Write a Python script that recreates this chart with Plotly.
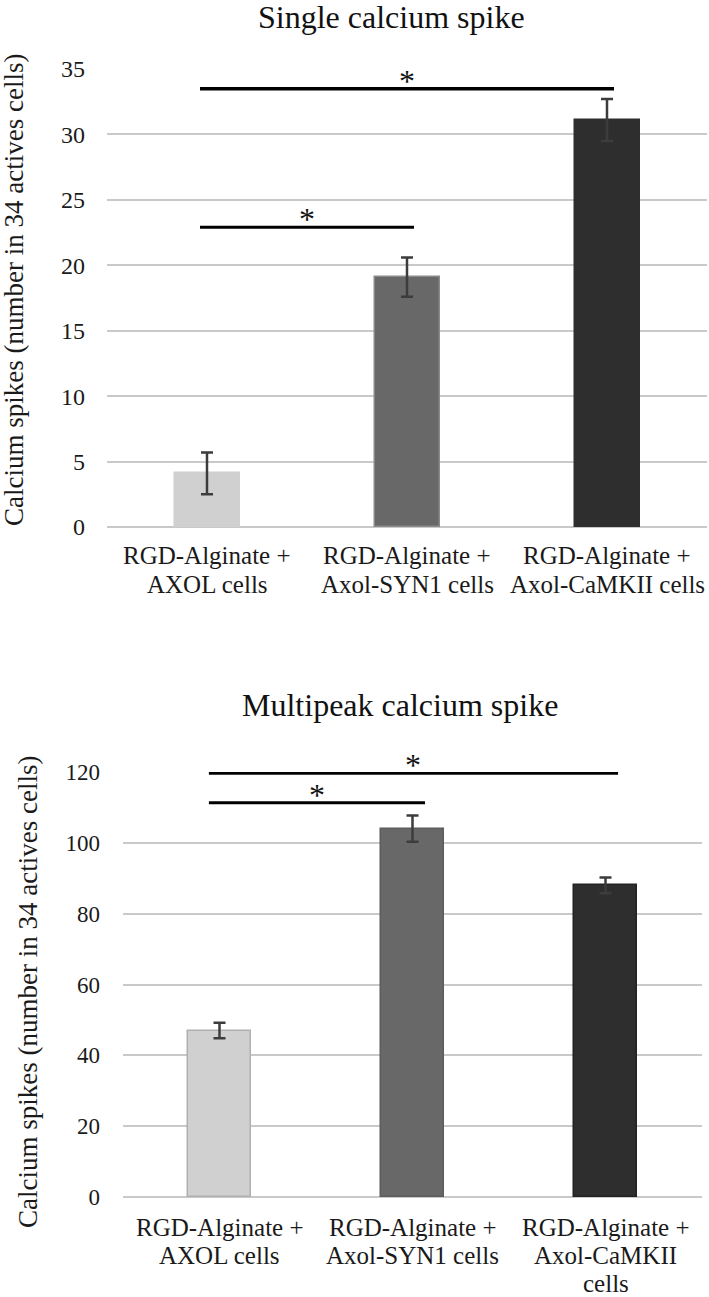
import plotly.graph_objects as go

# ---------------- data ----------------
label_lines_top = [
    ["RGD-Alginate +", "AXOL cells"],
    ["RGD-Alginate +", "Axol-SYN1 cells"],
    ["RGD-Alginate +", "Axol-CaMKII cells"],
]
label_lines_bottom = [
    ["RGD-Alginate +", "AXOL cells"],
    ["RGD-Alginate +", "Axol-SYN1 cells"],
    ["RGD-Alginate +", "Axol-CaMKII", "cells"],
]
positions = [0, 1, 2]

single_values = [4.1, 19.1, 31.1]
single_err = [1.6, 1.5, 1.6]
multi_values = [47.0, 104.0, 88.0]
multi_err = [2.2, 3.7, 2.2]

single_ticks = [0, 5, 10, 15, 20, 25, 30, 35]
multi_ticks = [0, 20, 40, 60, 80, 100, 120]

# significance brackets: (group a, group b, line level)
single_sig = [(0, 1, 22.9), (0, 2, 33.5)]
multi_sig = [(0, 1, 111.3), (0, 2, 119.7)]

title_top = "Single calcium spike"
title_bottom = "Multipeak calcium spike"
y_title = "Calcium spikes (number in 34 actives cells)"

# ---------------- style ----------------
W, H = 709, 1297
FONT = "Liberation Serif, Times New Roman, serif"
bar_colors = ["#d0d0d0", "#686868", "#2e2e2e"]
line_top = ["#d0d0d0", "#8a8a8a", "#2e2e2e"]
line_bottom = ["#b0b0b0", "#5c5c5c", "#222222"]
err_color = "#3c3c3c"
grid_color = "#c9c9c9"


def py(px):
    return 1 - px / H


fig = go.Figure()

fig.add_trace(go.Bar(
    x=positions, y=single_values, width=0.325,
    marker=dict(color=bar_colors, line=dict(color=line_top, width=1.5)),
    error_y=dict(type="data", array=single_err, visible=True,
                 color=err_color, thickness=2.5, width=6),
    xaxis="x", yaxis="y", showlegend=False,
))
fig.add_trace(go.Bar(
    x=positions, y=multi_values, width=0.325,
    marker=dict(color=bar_colors, line=dict(color=line_bottom, width=1.5)),
    error_y=dict(type="data", array=multi_err, visible=True,
                 color=err_color, thickness=2.5, width=6),
    xaxis="x2", yaxis="y2", showlegend=False,
))

yax_common = dict(
    showgrid=True, gridcolor=grid_color, gridwidth=2,
    zeroline=True, zerolinecolor=grid_color, zerolinewidth=2,
    showline=False, ticks="", automargin=False,
    tickfont=dict(family=FONT, size=24, color="#1a1a1a"),
)
xax_common = dict(
    showgrid=False, zeroline=False, showline=False, ticks="",
    showticklabels=False, range=[-0.5, 2.5], automargin=False,
    fixedrange=True,
)

fig.update_layout(
    width=W, height=H,
    margin=dict(l=0, r=0, t=0, b=0),
    paper_bgcolor="white", plot_bgcolor="white",
    font=dict(family=FONT, color="#1a1a1a"),
    xaxis=dict(domain=[107 / W, 707 / W], anchor="y", **xax_common),
    yaxis=dict(domain=[py(527), py(69)], anchor="x", range=[0, 35],
               tickvals=single_ticks, ticklabelstandoff=21, **yax_common),
    xaxis2=dict(domain=[123 / W, 702 / W], anchor="y2", **xax_common),
    yaxis2=dict(domain=[py(1197), py(772)], anchor="x2", range=[0, 120],
                tickvals=multi_ticks, ticklabelstandoff=22, **yax_common),
    bargap=0,
)
fig.layout.yaxis2.tickfont.size = 23

annotations = []
shapes = []

# titles
annotations.append(dict(text=title_top, x=391 / W, y=py(17), xref="paper", yref="paper",
                        showarrow=False, xanchor="center", yanchor="middle",
                        font=dict(family=FONT, size=32, color="#111111")))
annotations.append(dict(text=title_bottom, x=400 / W, y=py(705), xref="paper", yref="paper",
                        showarrow=False, xanchor="center", yanchor="middle",
                        font=dict(family=FONT, size=32, color="#111111")))

# y titles
annotations.append(dict(text=y_title, x=14 / W, y=py(290), xref="paper", yref="paper",
                        showarrow=False, xanchor="center", yanchor="middle", textangle=-90,
                        font=dict(family=FONT, size=27, color="#1a1a1a")))
annotations.append(dict(text=y_title, x=28 / W, y=py(992), xref="paper", yref="paper",
                        showarrow=False, xanchor="center", yanchor="middle", textangle=-90,
                        font=dict(family=FONT, size=27, color="#1a1a1a")))

# category labels (one annotation per line for tight line spacing)
def add_labels(lines_list, xref, yref, first_top, step):
    for pos, lines in zip(positions, lines_list):
        for k, line in enumerate(lines):
            annotations.append(dict(text=line, x=pos, y=0, xref=xref, yref=yref + " domain",
                                    showarrow=False, xanchor="center", yanchor="top",
                                    yshift=-(first_top + k * step),
                                    font=dict(family=FONT, size=25, color="#1a1a1a")))

add_labels(label_lines_top, "x", "y", 13, 28.5)
add_labels(label_lines_bottom, "x2", "y2", 15, 28)

# significance lines and asterisks
def add_sig(sig, xref, yref, pad_l, pad_r, lw_list, star_dy):
    for (a, b, lvl), lw in zip(sig, lw_list):
        x0 = positions[a] - pad_l
        x1 = positions[b] + pad_r
        shapes.append(dict(type="line", xref=xref, yref=yref, x0=x0, x1=x1, y0=lvl, y1=lvl,
                           line=dict(color="black", width=lw)))
        annotations.append(dict(text="*", x=(x0 + x1) / 2, y=lvl, xref=xref, yref=yref,
                                showarrow=False, xanchor="center", yanchor="bottom",
                                yshift=star_dy,
                                font=dict(family=FONT, size=32, color="#111111")))

add_sig(single_sig, "x", "y", 0.035, 0.035, [3, 3.5], -12)
add_sig(multi_sig, "x2", "y2", 0.055, 0.065, [3, 3.5], -12)

fig.update_layout(annotations=annotations, shapes=shapes)

fig.write_html(
    "out.html",
    config={"displayModeBar": False},
    post_script="document.body.style.margin='0';document.body.style.padding='0';"
                "document.documentElement.style.overflow='hidden';",
)
